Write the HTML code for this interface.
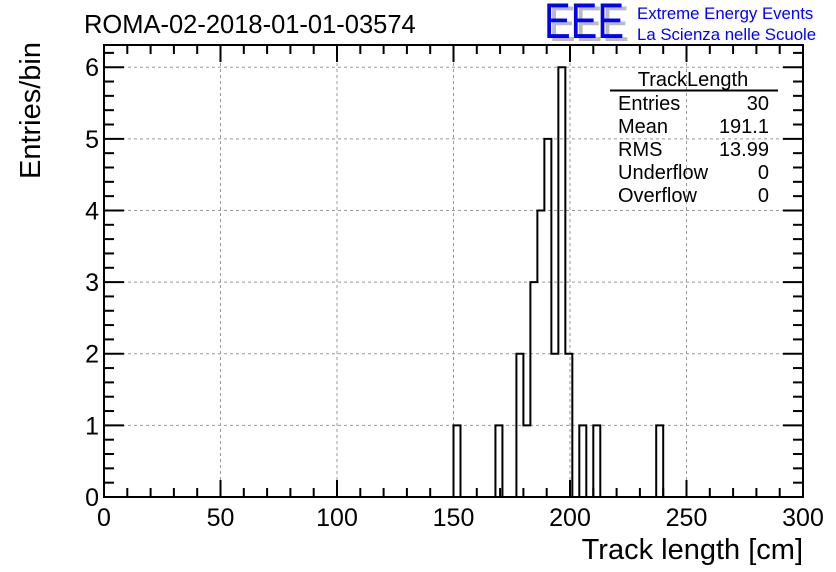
<!DOCTYPE html>
<html><head><meta charset="utf-8"><style>
body{margin:0;background:#fff;}
svg{display:block;font-family:"Liberation Sans",Arial,sans-serif;}
</style></head><body>
<svg id="chart" width="836" height="572" viewBox="0 0 836 572">
<rect x="0" y="0" width="836" height="572" fill="#fff"/>
<g id="grid"></g>
<g id="hist"></g>
<g id="ticks"></g>
<rect x="104" y="45" width="699" height="452" fill="none" stroke="#000" stroke-width="2"/>
<text x="84" y="33" font-size="25.5">ROMA-02-2018-01-01-03574</text>
<g>
<text x="549" y="41" font-size="50" fill="#bbb" textLength="80" lengthAdjust="spacingAndGlyphs">EEE</text>
<text x="544" y="38" font-size="50" fill="#0000ff" textLength="80" lengthAdjust="spacingAndGlyphs">EEE</text>
</g>
<text x="637" y="19" font-size="16.8" fill="#0000ff">Extreme Energy Events</text>
<text x="637" y="40" font-size="16.8" fill="#0000ff">La Scienza nelle Scuole</text>
<g font-size="20">
<text x="693" y="86" text-anchor="middle">TrackLength</text>
<line x1="610" y1="90.5" x2="778" y2="90.5" stroke="#000" stroke-width="2"/>
<text x="618" y="110">Entries</text><text x="769" y="110" text-anchor="end">30</text>
<text x="618" y="133">Mean</text><text x="769" y="133" text-anchor="end">191.1</text>
<text x="618" y="156">RMS</text><text x="769" y="156" text-anchor="end">13.99</text>
<text x="618" y="179">Underflow</text><text x="769" y="179" text-anchor="end">0</text>
<text x="618" y="202">Overflow</text><text x="769" y="202" text-anchor="end">0</text>
</g>
<text x="803" y="559" font-size="29" text-anchor="end">Track length [cm]</text>
<text transform="translate(40,42) rotate(-90)" font-size="29" text-anchor="end">Entries/bin</text>
</svg>
<script>
const binEdgesLow=[150,168,177,180,183,186,189,192,195,198,204,210,237];
const binCounts=[1,1,2,1,3,4,5,2,6,2,1,1,1];
const binWidth=3;
const xTicks=[0,50,100,150,200,250,300];
const yTicks=[0,1,2,3,4,5,6];
const X0=104,X1=803,Y0=497,Y1=45,xMin=0,xMax=300,yMin=0,yMax=6.31;
const sx=v=>X0+(v-xMin)/(xMax-xMin)*(X1-X0);
const sy=v=>Y0-(v-yMin)/(yMax-yMin)*(Y0-Y1);
const NS="http://www.w3.org/2000/svg";
function mk(tag,attrs,parent){const e=document.createElementNS(NS,tag);for(const k in attrs)e.setAttribute(k,attrs[k]);parent.appendChild(e);return e;}
const grid=document.getElementById('grid'),hist=document.getElementById('hist'),ticks=document.getElementById('ticks');
xTicks.forEach(t=>{
  const x=sx(t);
  if(t>xMin&&t<xMax){const l=mk('line',{x1:x,y1:Y1,x2:x,y2:Y0,stroke:'#999','stroke-dasharray':'3,3','stroke-width':1},grid);
  
  }
  const a=mk('line',{x1:x,y1:Y0,x2:x,y2:Y0-17,stroke:'#000','stroke-width':2},ticks);
  
  
  const b=mk('line',{x1:x,y1:Y1,x2:x,y2:Y1+17,stroke:'#000','stroke-width':2},ticks);
  
  
  const tx=mk('text',{x:x,y:Y0+29,'font-size':25,'text-anchor':'middle'},ticks);
  tx.textContent=t;
  
  
});
for(let v=xMin+10;v<xMax;v+=10){if(v%50===0)continue;const x=sx(v);
  const a=mk('line',{x1:x,y1:Y0,x2:x,y2:Y0-9,stroke:'#000','stroke-width':2},ticks);
  
  
  const b=mk('line',{x1:x,y1:Y1,x2:x,y2:Y1+9,stroke:'#000','stroke-width':2},ticks);
  
  }
yTicks.forEach(t=>{
  const y=sy(t);
  if(t>yMin){const l=mk('line',{x1:X0,y1:y,x2:X1,y2:y,stroke:'#999','stroke-dasharray':'3,3','stroke-width':1},grid);
  
  }
  const a=mk('line',{x1:X0,y1:y,x2:X0+20,y2:y,stroke:'#000','stroke-width':2},ticks);
  
  
  const b=mk('line',{x1:X1,y1:y,x2:X1-20,y2:y,stroke:'#000','stroke-width':2},ticks);
  
  
  const tx=mk('text',{x:X0-5,y:y+9,'font-size':25,'text-anchor':'end'},ticks);
  tx.textContent=t;
  
  
});
for(let i=1;i<Math.floor(yMax*5)+1;i++){if(i%5===0)continue;const y=sy(i*0.2);if(y<Y1)break;
  const a=mk('line',{x1:X0,y1:y,x2:X0+10,y2:y,stroke:'#000','stroke-width':2},ticks);
  
  
  const b=mk('line',{x1:X1,y1:y,x2:X1-10,y2:y,stroke:'#000','stroke-width':2},ticks);
  
  }
let d='',prevHi=null;
binEdgesLow.forEach((lo,i)=>{
  const hi=lo+binWidth,c=binCounts[i];
  if(prevHi===null||Math.abs(prevHi-lo)>1e-9){d+=(prevHi!==null?' L'+sx(prevHi)+','+sy(0):'')+' M'+sx(lo)+','+sy(0);}
  d+=' L'+sx(lo)+','+sy(c)+' L'+sx(hi)+','+sy(c);
  prevHi=hi;
});
d+=' L'+sx(prevHi)+','+sy(0);
const p=mk('path',{d:d.trim(),fill:'none',stroke:'#000','stroke-width':2},hist);


binEdgesLow.forEach((lo,i)=>{
  const r=mk('rect',{x:sx(lo),y:sy(binCounts[i]),width:sx(lo+binWidth)-sx(lo),height:sy(0)-sy(binCounts[i]),fill:'transparent'},hist);
  
  
});
</script>
</body></html>
